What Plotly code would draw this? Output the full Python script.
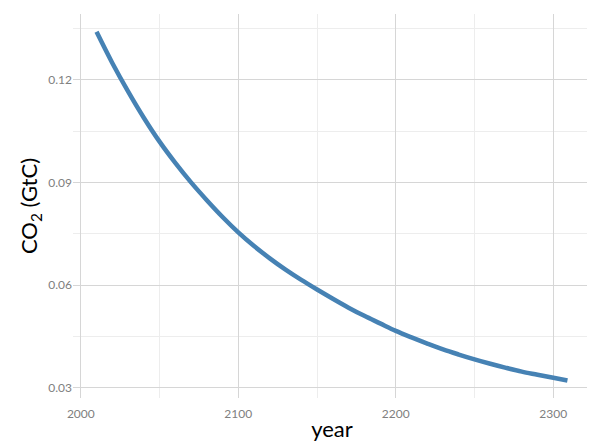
import plotly.graph_objects as go

years = [2010, 2020, 2030, 2040, 2050, 2060, 2070, 2080, 2090, 2100,
         2110, 2120, 2130, 2140, 2150, 2160, 2170, 2180, 2190, 2200,
         2210, 2220, 2230, 2240, 2250, 2260, 2270, 2280, 2290, 2300, 2309]
co2 = [0.1340, 0.1249, 0.1166, 0.1089, 0.1019, 0.0957, 0.0900, 0.0848, 0.0799, 0.0754,
       0.0714, 0.0678, 0.0645, 0.0615, 0.0587, 0.0560, 0.0534, 0.0510, 0.0488, 0.0466,
       0.0447, 0.0429, 0.0412, 0.0397, 0.0383, 0.0370, 0.0358, 0.0347, 0.0338, 0.0329, 0.0321]

x_ticks = [2000, 2100, 2200, 2300]
y_ticks = [0.03, 0.06, 0.09, 0.12]
y_tick_labels = ["0.03", "0.06", "0.09", "0.12"]

fig = go.Figure()
fig.add_trace(go.Scatter(x=years, y=co2, mode="lines", line_shape="spline",
                         line=dict(color="#4682B4", width=4.5)))

major = "#d6d6d6"
minor = "#ededed"
# page body has an 8px default margin, so the figure is sized/offset to compensate
fig.update_layout(
    width=587, height=440,
    margin=dict(l=65, r=4, t=6, b=50, autoexpand=False),
    paper_bgcolor="white", plot_bgcolor="white",
    font=dict(family="Lato, 'Open Sans', sans-serif", color="#000000"),
    showlegend=False,
    xaxis=dict(
        range=[1995.05, 2323.95], tickmode="array", tickvals=x_ticks,
        ticktext=[str(v) for v in x_ticks], automargin=False,
        showgrid=True, gridcolor=major, gridwidth=1, zeroline=False,
        showline=False, ticks="", ticklabelstandoff=7,
        tickfont=dict(size=12, color="#808080"),
        minor=dict(tickmode="array", tickvals=[2050, 2150, 2250], showgrid=True,
                   gridcolor=minor, gridwidth=1),
        title=dict(text="year", font=dict(size=22, color="#000000"), standoff=1),
    ),
    yaxis=dict(
        range=[0.0270, 0.1392], tickmode="array", tickvals=y_ticks,
        ticktext=y_tick_labels, automargin=False,
        showgrid=True, gridcolor=major, gridwidth=1, zeroline=False,
        showline=False, ticks="",
        tickfont=dict(size=12, color="#808080"),
        minor=dict(tickmode="array", tickvals=[0.045, 0.075, 0.105, 0.135],
                   showgrid=True, gridcolor=minor, gridwidth=1),
        title=dict(text="CO<sub>2</sub> (GtC)", font=dict(size=22, color="#000000"),
                   standoff=4),
    ),
)

fig.write_html("out.html")
